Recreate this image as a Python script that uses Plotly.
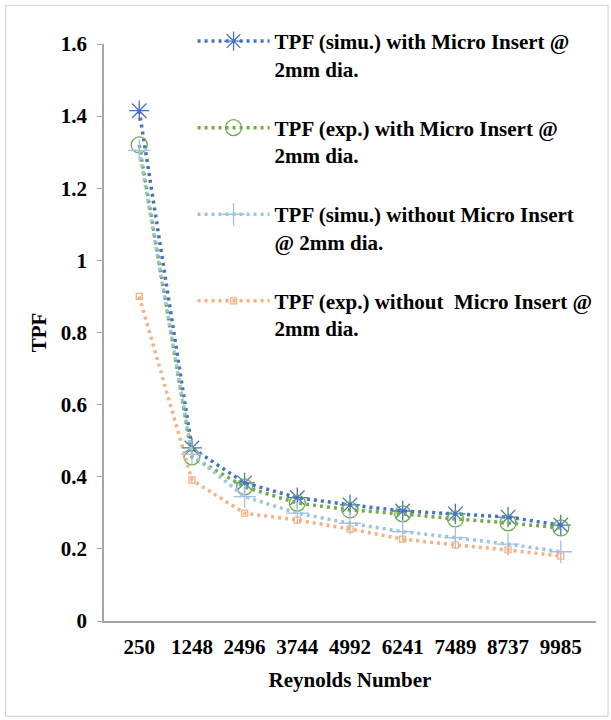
import plotly.graph_objects as go

reynolds = ["250", "1248", "2496", "3744", "4992", "6241", "7489", "8737", "9985"]
simu_with = [1.415, 0.48, 0.383, 0.342, 0.322, 0.305, 0.297, 0.288, 0.266]
exp_with = [1.32, 0.455, 0.372, 0.327, 0.308, 0.297, 0.283, 0.272, 0.258]
simu_without = [1.305, 0.462, 0.345, 0.299, 0.271, 0.248, 0.231, 0.213, 0.192]
exp_without = [0.90, 0.391, 0.299, 0.280, 0.255, 0.227, 0.211, 0.197, 0.180]

names = [
    "TPF (simu.) with Micro Insert @<br>2mm dia.",
    "TPF (exp.) with Micro Insert @<br>2mm dia.",
    "TPF (simu.) without Micro Insert<br>@ 2mm dia.",
    "TPF (exp.) without  Micro Insert @<br>2mm dia.",
]
colors = ["#4472C4", "#70AD47", "#9DC3E6", "#F4B183"]
symbols = ["asterisk-open", "circle-open", "cross-thin-open", "square-open"]
sizes = [17, 16, 16, 6]
series = [simu_with, exp_with, simu_without, exp_without]

font_family = "Liberation Serif"
fs = 21

fig = go.Figure()
for i, (name, ys) in enumerate(zip(names, series)):
    fig.add_trace(go.Scatter(
        x=reynolds, y=ys, name=name, mode="lines+markers",
        legendgroup=f"g{i}",
        line=dict(color=colors[i], width=3.5, dash="3px,4px"),
        marker=dict(symbol=symbols[i], size=sizes[i], color=colors[i],
                    line=dict(color=colors[i], width=1.3)),
    ))

fig.update_layout(
    width=611, height=720,
    margin=dict(l=104, r=15, t=44, b=99),
    paper_bgcolor="white", plot_bgcolor="white",
    font=dict(family=font_family, size=fs, color="black"),
    showlegend=True,
    legend=dict(
        x=0.18, y=1.04, xanchor="left", yanchor="top",
        bgcolor="rgba(0,0,0,0)", tracegroupgap=29, valign="top",
        font=dict(family=font_family, size=fs, color="black", weight="bold"),
        itemwidth=72,
    ),
    xaxis=dict(
        type="category", showgrid=False, showline=True, linecolor="#A6A6A6",
        linewidth=1.5, ticks="", zeroline=False, ticklabelstandoff=6,
        tickfont=dict(family=font_family, size=fs, weight="bold"),
        title=dict(text="<b>Reynolds Number</b>", standoff=14,
                   font=dict(family=font_family, size=fs)),
    ),
    yaxis=dict(
        range=[0, 1.6], dtick=0.2, showgrid=False, showline=True,
        linecolor="#A6A6A6", linewidth=1.5, ticks="outside", ticklen=5,
        tickcolor="#A6A6A6", zeroline=False, ticklabelstandoff=6,
        tickfont=dict(family=font_family, size=fs, weight="bold"),
        title=dict(text="<b>TPF</b>", standoff=8,
                   font=dict(family=font_family, size=fs)),
    ),
    shapes=[dict(type="rect", xref="paper", yref="paper",
                 x0=-0.2, x1=1.0245, y0=-0.165, y1=1.067,
                 line=dict(color="#D0D0D0", width=1), layer="below")],
)

fig.write_html("out.html")
